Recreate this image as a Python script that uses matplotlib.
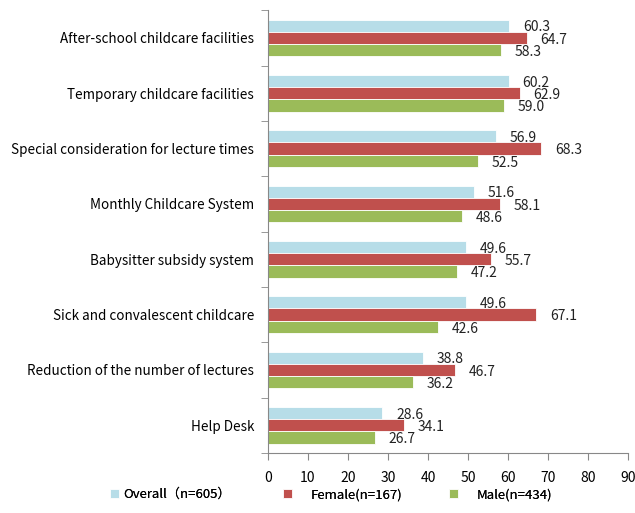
import matplotlib.pyplot as plt
import numpy as np

plt.rcParams['font.family'] = ['Noto Sans CJK JP', 'DejaVu Sans']

categories = [
    "After-school childcare facilities",
    "Temporary childcare facilities",
    "Special consideration for lecture times",
    "Monthly Childcare System",
    "Babysitter subsidy system",
    "Sick and convalescent childcare",
    "Reduction of the number of lectures",
    "Help Desk",
]
overall = [60.3, 60.2, 56.9, 51.6, 49.6, 49.6, 38.8, 28.6]
female = [64.7, 62.9, 68.3, 58.1, 55.7, 67.1, 46.7, 34.1]
male = [58.3, 59.0, 52.5, 48.6, 47.2, 42.6, 36.2, 26.7]

series = [
    ("Overall\uff08n=605\uff09", overall, "#b7dde8"),
    ("Female(n=167)", female, "#c0504d"),
    ("Male(n=434)", male, "#9bbb59"),
]

fig = plt.figure(figsize=(6.35, 5.13), dpi=100)
ax = fig.add_axes([0.422, 0.117, 0.567, 0.863])

y = np.arange(len(categories))
h = 0.222
bars = []
for i, (name, vals, color) in enumerate(series):
    pos = y + (i - 1) * h
    b = ax.barh(pos, vals, height=h, color=color, edgecolor="white",
                linewidth=0.6, label=name)
    bars.append(b)
    for p, v in zip(pos, vals):
        ax.text(v + 3.4, p + 0.03, f"{v:.1f}", va="center", ha="left",
                fontsize=10, color="#222222")

ax.set_xlim(0, 90)
ax.set_ylim(len(categories) - 0.5, -0.5)
ax.set_xticks(np.arange(0, 91, 10))
ax.set_yticks(y)
ax.set_yticklabels(categories, fontsize=9.7)
ax.set_yticks(np.arange(-0.5, len(categories), 1), minor=True)
ax.tick_params(axis="y", which="major", length=0, pad=10)
ax.tick_params(axis="y", which="minor", length=5, direction="out", color="#888888")
ax.tick_params(axis="x", length=5, direction="out", color="#888888", labelsize=10, pad=8)
for s in ["top", "right"]:
    ax.spines[s].set_visible(False)
for s in ["left", "bottom"]:
    ax.spines[s].set_color("#888888")

# one legend per series so each entry sits at its own spot
legend_x = [110 / 635, 283 / 635, 449 / 635]
text_pad = [0.3, 1.4, 1.4]
for b, (name, _, _), lx, tp in zip(bars, series, legend_x, text_pad):
    leg = fig.legend([b], [name], loc="center left", bbox_to_anchor=(lx, 0.036),
                     frameon=False, fontsize=9.5, handlelength=0.7,
                     handleheight=0.7, handletextpad=tp, borderpad=0,
                     borderaxespad=0)
    fig.add_artist(leg)

fig.savefig("out.png", dpi=100)
